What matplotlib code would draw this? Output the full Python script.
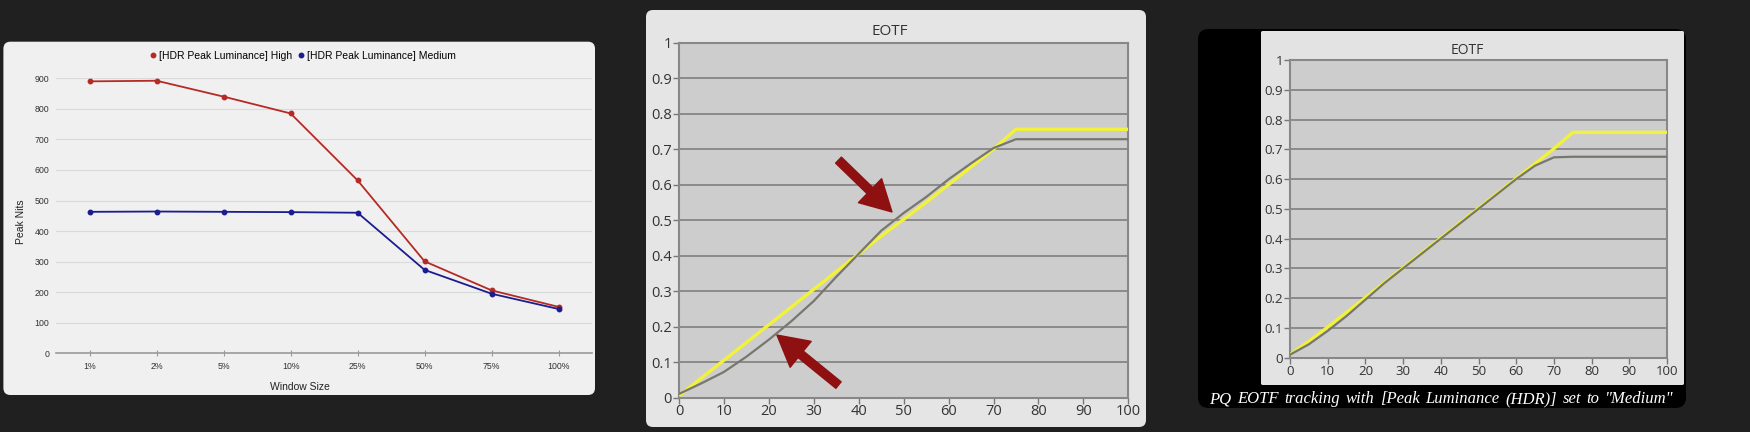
import matplotlib
matplotlib.use("Agg")
import matplotlib.pyplot as plt
from matplotlib.patches import FancyBboxPatch
from matplotlib.lines import Line2D

# ---- data ----
window_sizes = ["1%", "2%", "5%", "10%", "25%", "50%", "75%", "100%"]
peak_high = [890, 892, 840, 785, 566, 301, 206, 152]
peak_medium = [463, 464, 463, 462, 460, 273, 195, 145]

eotf_x = [0, 5, 10, 15, 20, 25, 30, 35, 40, 45, 50, 55, 60, 65, 70, 75, 80, 85, 90, 95, 100]
# middle chart (High)
target_high = [0.005, 0.055, 0.105, 0.155, 0.205, 0.255, 0.305, 0.355, 0.405, 0.455, 0.502,
               0.55, 0.6, 0.65, 0.7, 0.756, 0.756, 0.756, 0.756, 0.756, 0.756]
measured_high = [0.01, 0.04, 0.072, 0.115, 0.163, 0.215, 0.272, 0.34, 0.405, 0.47, 0.52,
                 0.565, 0.615, 0.66, 0.703, 0.728, 0.728, 0.728, 0.728, 0.728, 0.728]
# right chart (Medium)
target_medium = [0.01, 0.055, 0.103, 0.152, 0.202, 0.252, 0.302, 0.352, 0.402, 0.452, 0.502,
                 0.552, 0.602, 0.652, 0.702, 0.757, 0.757, 0.757, 0.757, 0.757, 0.757]
measured_medium = [0.01, 0.045, 0.09, 0.14, 0.195, 0.25, 0.3, 0.35, 0.4, 0.45, 0.5,
                   0.55, 0.6, 0.645, 0.673, 0.675, 0.675, 0.675, 0.675, 0.675, 0.675]

eotf_yticks = [0, 0.1, 0.2, 0.3, 0.4, 0.5, 0.6, 0.7, 0.8, 0.9, 1]
eotf_ylabels = ["0", "0.1", "0.2", "0.3", "0.4", "0.5", "0.6", "0.7", "0.8", "0.9", "1"]
eotf_xticks = [0, 10, 20, 30, 40, 50, 60, 70, 80, 90, 100]

caption = 'PQ EOTF tracking with [Peak Luminance (HDR)] set to "Medium"'

W, H = 1750, 432


def rect(x0, y0, x1, y1):
    return [x0 / W, 1 - y1 / H, (x1 - x0) / W, (y1 - y0) / H]


def card(fig, x0, y0, x1, y1, color, rnd=0.004):
    p = FancyBboxPatch((x0 / W, 1 - y1 / H), (x1 - x0) / W, (y1 - y0) / H,
                       boxstyle=f"round,pad=0,rounding_size={rnd}",
                       mutation_aspect=W / H, transform=fig.transFigure,
                       facecolor=color, edgecolor="none", zorder=-1)
    fig.add_artist(p)


fig = plt.figure(figsize=(W / 100, H / 100), dpi=100)
fig.patch.set_facecolor("#202020")

# ---- left chart: peak nits vs window size ----
card(fig, 3.4, 41.7, 595, 395, "#f0f0f0")
ax1 = fig.add_axes(rect(56.2, 78.3, 592, 353.3))
ax1.set_facecolor("none")
xs = list(range(len(window_sizes)))
red, blue = "#b52a25", "#1c1c8f"
ax1.plot(xs, peak_high, color=red, lw=1.3, marker="o", ms=3.2, clip_on=False, zorder=3)
ax1.plot(xs, peak_medium, color=blue, lw=1.3, marker="o", ms=3.2, clip_on=False, zorder=3)
ax1.set_xlim(-0.5, len(window_sizes) - 0.5)
ax1.set_ylim(0, 900)
ax1.set_yticks(range(0, 1000, 100))
ax1.set_xticks(xs)
ax1.set_xticklabels(window_sizes)
ax1.tick_params(axis="y", length=0, pad=5, labelsize=6.3, labelcolor="#333333")
ax1.tick_params(axis="x", length=4, direction="inout", color="#999999", pad=4,
                labelsize=6.3, labelcolor="#333333")
for s in ["top", "right", "left"]:
    ax1.spines[s].set_visible(False)
ax1.spines["bottom"].set_color("#9a9a9a")
ax1.spines["bottom"].set_linewidth(1.2)
ax1.yaxis.grid(True, color="#dadada", lw=0.8)
ax1.set_axisbelow(True)
for lab in ax1.get_xticklabels() + ax1.get_yticklabels():
    lab.set_family("Liberation Sans")

handles = [Line2D([], [], color=red, marker="o", ls="none", ms=3.2),
           Line2D([], [], color=blue, marker="o", ls="none", ms=3.2)]
fig.legend(handles, ["[HDR Peak Luminance] High", "[HDR Peak Luminance] Medium"],
           loc="center", bbox_to_anchor=(303 / W, 1 - 56 / H), ncol=2, frameon=False,
           handlelength=0.5, handletextpad=0.3, columnspacing=0.6,
           prop={"family": "Liberation Sans", "size": 7.5})
fig.text(20.7 / W, 1 - 222 / H, "Peak Nits", rotation=90, ha="center", va="center",
         family="Liberation Sans", size=7.5, color="#222222")
fig.text(300 / W, 1 - 387 / H, "Window Size", ha="center", va="center",
         family="Liberation Sans", size=7.5, color="#222222")


def eotf_axes(r, target, measured, tick_size, title_xy, title_size):
    ax = fig.add_axes(r)
    ax.set_facecolor("#cdcdcd")
    ax.plot(eotf_x, target, color="#f2f23a", lw=2.4, zorder=3, solid_capstyle="butt")
    ax.plot(eotf_x, measured, color="#77776f", lw=1.6, zorder=4)
    ax.set_xlim(0, 100)
    ax.set_ylim(0, 1)
    ax.set_yticks(eotf_yticks)
    ax.set_yticklabels(eotf_ylabels)
    ax.set_xticks(eotf_xticks)
    ax.yaxis.grid(True, color="#858585", lw=1.3)
    ax.set_axisbelow(True)
    for s in ax.spines.values():
        s.set_color("#888888")
        s.set_linewidth(1.5)
    ax.tick_params(length=4, direction="out", color="#777777", width=1,
                   labelsize=tick_size, labelcolor="#333333", pad=1)
    for lab in ax.get_xticklabels() + ax.get_yticklabels():
        lab.set_family("Open Sans")
    fig.text(title_xy[0] / W, 1 - title_xy[1] / H, "EOTF", ha="center", va="center",
             family="Open Sans", size=title_size, color="#333333")
    return ax


# ---- middle chart ----
card(fig, 646, 10, 1146, 427, "#e5e5e5")
ax2 = eotf_axes(rect(679, 42.7, 1128.3, 397.5), target_high, measured_high,
                10.5, (890, 31.7), 11)
arrow = dict(arrowstyle="simple,head_length=1.1,head_width=1.2,tail_width=0.3",
             mutation_scale=20, color="#8e1010", shrinkA=0, shrinkB=0)
ax2.annotate("", xy=(47.4, 0.523), xytext=(35.5, 0.669), arrowprops=arrow, zorder=6)
ax2.annotate("", xy=(21.8, 0.176), xytext=(35.5, 0.035), arrowprops=arrow, zorder=6)

# ---- right chart ----
card(fig, 1198, 29, 1686, 408, "#000000", rnd=0.006)
card(fig, 1261, 31, 1684, 385, "#e3e3e3", rnd=0.001)
ax3 = eotf_axes(rect(1290, 60, 1667, 357.7), target_medium, measured_medium,
                9.5, (1467, 50.5), 10)

# caption, spread across the width like justified text
renderer = fig.canvas.get_renderer()
words = caption.split(" ")
texts = []
for w in words:
    t = fig.text(0, 1 - 399 / H, w, ha="left", va="center", color="white",
                 family="Liberation Serif", style="italic", size=12)
    texts.append(t)
widths = [t.get_window_extent(renderer).width for t in texts]
x0, x1 = 1209, 1674
gap = (x1 - x0 - sum(widths)) / (len(words) - 1)
x = x0
for t, w in zip(texts, widths):
    t.set_x(x / W)
    x += w + gap

fig.savefig("out.png", dpi=100, facecolor=fig.get_facecolor())
